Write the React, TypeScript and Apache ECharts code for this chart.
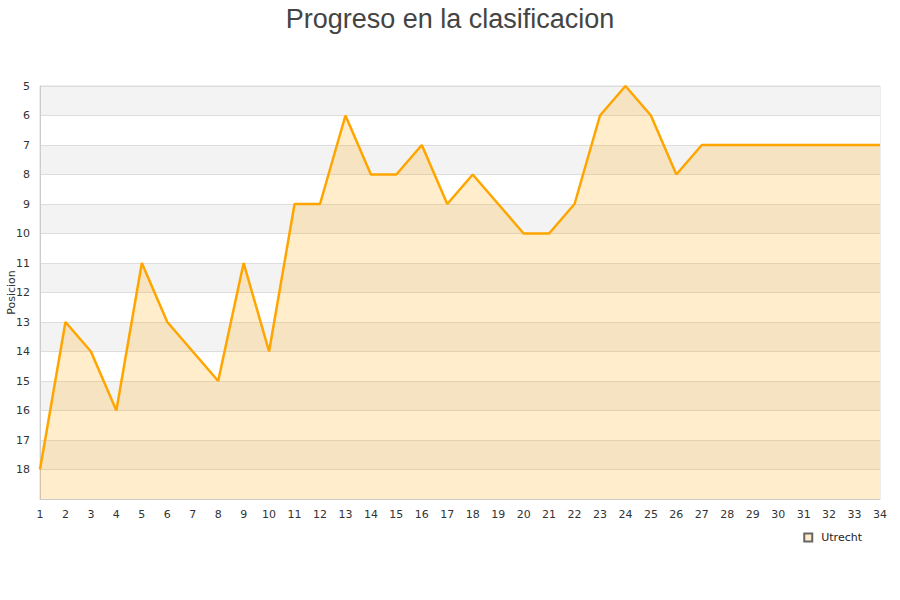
import React, { useEffect, useRef } from "react";
import * as echarts from "echarts";

const jornadas: string[] = Array.from({ length: 34 }, (_, i) => String(i + 1));
const posiciones: number[] = [
  18, 13, 14, 16, 11, 13, 14, 15, 11, 14, 9, 9, 6, 8, 8, 7, 9, 8, 9, 10, 10, 9, 6, 5, 6, 8, 7, 7, 7, 7, 7, 7, 7, 7,
];
const teamName = "Utrecht";
const titleText = "Progreso en la clasificacion";
const yAxisName = "Posicion";

export default function App() {
  const ref = useRef<HTMLDivElement>(null);
  useEffect(() => {
    if (!ref.current) return;
    const chart = echarts.init(ref.current, null, { renderer: "svg" });
    chart.setOption({
      animation: false,
      title: {
        text: titleText,
        left: "center",
        top: 0,
        textStyle: { fontSize: 27, fontWeight: "normal", color: "#444", fontFamily: "Liberation Sans" },
      },
      grid: {
        left: 40,
        right: 20,
        top: 86,
        bottom: 101,
        containLabel: false,
        outerBoundsMode: "none",
        show: true,
        borderColor: "#ddd",
        borderWidth: 1,
        backgroundColor: "transparent",
      },
      legend: {
        data: [{ name: teamName, icon: "rect" }],
        right: 33,
        top: 527,
        itemWidth: 8,
        itemHeight: 8,
        itemGap: 5,
        textStyle: { fontSize: 11, color: "#222", fontFamily: "DejaVu Sans", padding: [0, 0, 0, 4] },
      },
      xAxis: {
        type: "category",
        data: jornadas,
        boundaryGap: false,
        axisLine: { show: true, lineStyle: { color: "#ccc" } },
        axisTick: { show: false },
        axisLabel: { color: "#333", fontSize: 11, fontFamily: "DejaVu Sans", margin: 10, interval: 0 },
        splitLine: { show: false },
      },
      yAxis: {
        type: "value",
        inverse: true,
        min: 5,
        max: 19,
        interval: 1,
        name: yAxisName,
        nameLocation: "middle",
        nameGap: 23,
        nameMoveOverlap: false,
        nameTextStyle: { fontSize: 11, color: "#333", fontFamily: "DejaVu Sans" },
        axisLine: { show: true, lineStyle: { color: "#ccc" } },
        axisTick: { show: false },
        axisLabel: {
          color: "#333",
          fontSize: 11,
          fontFamily: "DejaVu Sans",
          margin: 10,
          formatter: (v: number) => (v === 19 ? "" : String(v)),
        },
        splitLine: { show: true, lineStyle: { color: "#ddd" } },
        splitArea: { show: true, areaStyle: { color: ["#f3f3f3", "#ffffff"] } },
      },
      series: [
        {
          name: teamName,
          type: "line",
          data: posiciones,
          symbol: "none",
          lineStyle: { color: "#FFA500", width: 2.5 },
          itemStyle: { color: "#FFECC8", borderColor: "#666", borderWidth: 1 },
          areaStyle: { color: "rgba(255,165,0,0.2)", opacity: 1, origin: "end" },
        },
      ],
    });
    return () => chart.dispose();
  }, []);
  return <div ref={ref} style={{ width: 900, height: 600, position: "absolute", left: 0, top: 0 }} />;
}
